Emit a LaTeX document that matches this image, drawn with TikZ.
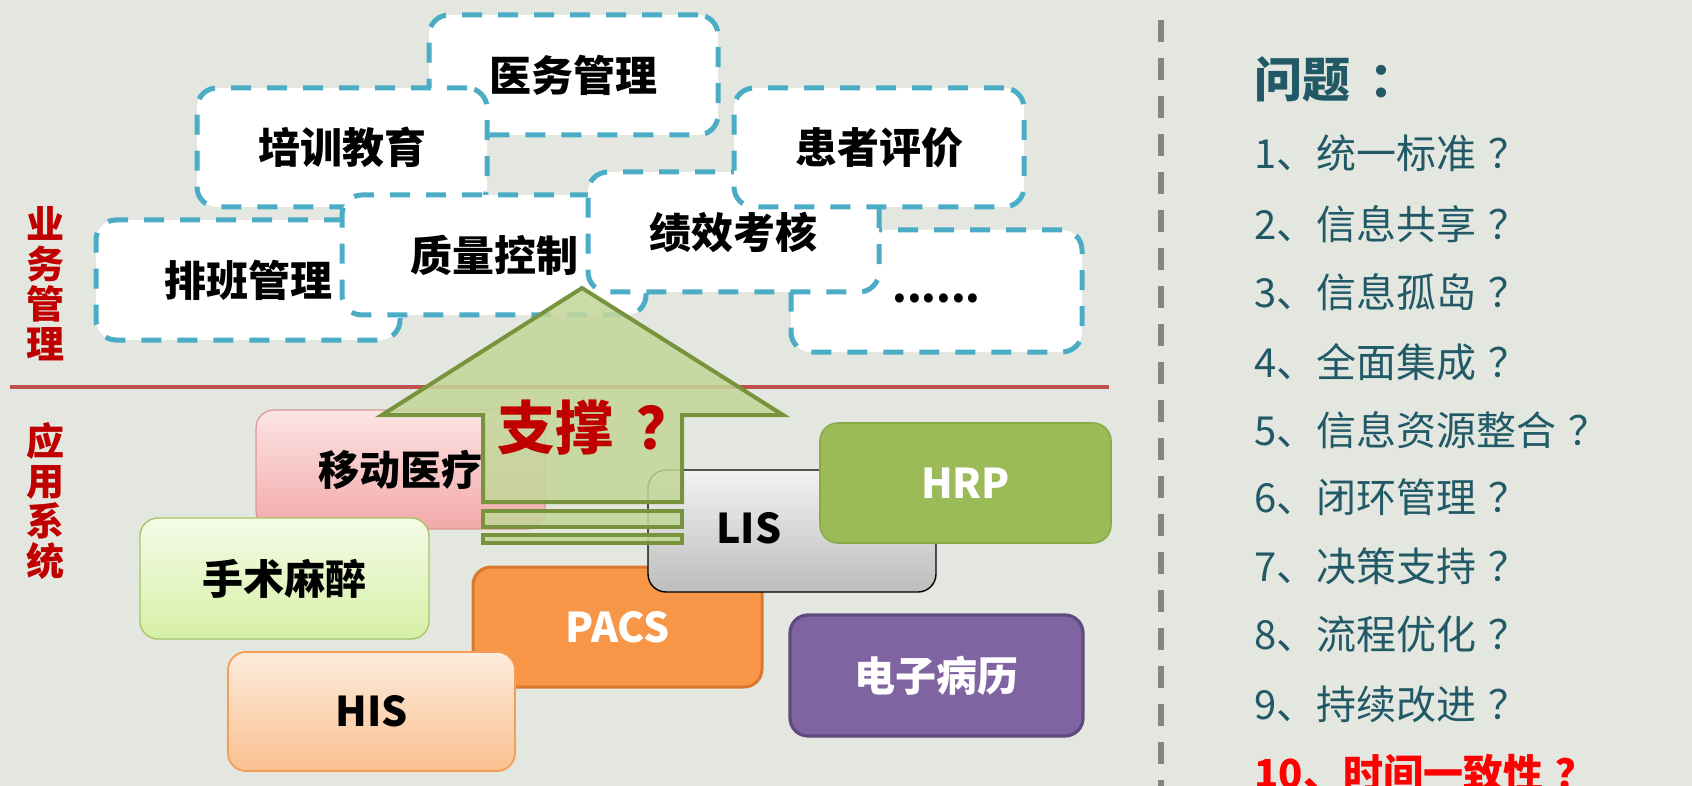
\documentclass[tikz,border=0pt]{standalone}
\usepackage{fontspec}
\setmainfont{Noto Sans CJK SC}
\definecolor{bgc}{HTML}{E3E7DF}
\definecolor{dashblue}{HTML}{4BACC6}
\definecolor{sepred}{HTML}{C0504D}
\definecolor{labelred}{HTML}{C00000}
\definecolor{arrowfill}{HTML}{C3D69B}
\definecolor{arrowline}{HTML}{77933C}
\definecolor{qteal}{HTML}{215967}
\definecolor{pinktop}{HTML}{FDE4E4}
\definecolor{pinkbot}{HTML}{F2A9A9}
\definecolor{pinkline}{HTML}{D99694}
\definecolor{limetop}{HTML}{F4FBE8}
\definecolor{limebot}{HTML}{D6F0A6}
\definecolor{limeline}{HTML}{A9C46A}
\definecolor{peachtop}{HTML}{FDECDD}
\definecolor{peachbot}{HTML}{FAC090}
\definecolor{peachline}{HTML}{F59D56}
\definecolor{orangefill}{HTML}{F79646}
\definecolor{orangeline}{HTML}{D9782F}
\definecolor{greytop}{HTML}{F2F2F2}
\definecolor{greybot}{HTML}{BDBDBD}
\definecolor{greenfill}{HTML}{9BBB59}
\definecolor{greenline}{HTML}{8AAB4A}
\definecolor{purplefill}{HTML}{8064A2}
\definecolor{purpleline}{HTML}{5E4A7E}
\definecolor{sepgrey}{HTML}{858585}
\definecolor{alertred}{HTML}{FF0000}
% full-width question mark, set centred in its cell
\newcommand{\qmark}{\hspace{0.3em}？}
\begin{document}
\begin{tikzpicture}[x=0.5pt,y=-0.5pt,
  dbox/.style={draw=dashblue,line width=2.5pt,dash pattern=on 10pt off 8pt,
    fill=white,rounded corners=10pt,inner sep=0pt,
    font=\bfseries\fontsize{21pt}{24pt}\selectfont},
  abox/.style={rounded corners=9pt,inner sep=0pt,
    font=\bfseries\fontsize{20.5pt}{24pt}\selectfont},
  side/.style={text=labelred,inner sep=0pt,align=center,
    font=\bfseries\fontsize{19pt}{20pt}\selectfont},
  item/.style={anchor=west,inner sep=0pt,text=qteal,
    font=\fontsize{20pt}{24pt}\selectfont},
  bigarrow/.style={fill=arrowfill,fill opacity=0.87,draw=arrowline,
    line width=2pt,line join=miter}
]
\useasboundingbox (0,0) rectangle (1692,786);
\fill[bgc] (0,0) rectangle (1692,786);

% business management layer (dashed boxes, back to front)
\node[dbox,minimum width=144.5pt,minimum height=60pt] (yiwu) at (573.5,75) {医务管理};
\node[dbox,minimum width=145pt,minimum height=59.5pt] (peixun) at (342,147.5) {培训教育};
\node[dbox,minimum width=152pt,minimum height=60pt] (paiban) at (248,280) {排班管理};
\node[dbox,minimum width=152pt,minimum height=60pt] (zhiliang) at (494,255) {质量控制};
\node[dbox,minimum width=145.5pt,minimum height=61pt] (more) at (936.5,291) {\smash{\raisebox{-6pt}{......}}};
\node[dbox,minimum width=145.5pt,minimum height=60pt] (jixiao) at (733.5,232) {绩效考核};
\node[dbox,minimum width=145pt,minimum height=59.5pt] (huanzhe) at (879,147.5) {患者评价};

% layer divider
\draw[sepred,line width=2pt] (10,387) -- (1109,387);

% layer captions
\node[side] (capbiz) at (45,284) {业\\务\\管\\理};
\node[side] (capapp) at (45,501) {应\\用\\系\\统};

% application systems
\node[abox,top color=pinktop,bottom color=pinkbot,draw=pinkline,line width=0.6pt,
  minimum width=144.5pt,minimum height=59.5pt] (mobile) at (400.5,469.5) {移动医疗};
\node[abox,top color=limetop,bottom color=limebot,draw=limeline,line width=0.7pt,
  minimum width=144.5pt,minimum height=60.5pt] (surgery) at (284.5,578.5) {手术麻醉};
\node[abox,fill=orangefill,draw=orangeline,line width=1.5pt,text=white,
  minimum width=144.5pt,minimum height=60pt] (pacs) at (617.5,627) {PACS};
\node[abox,top color=peachtop,bottom color=peachbot,draw=peachline,line width=0.9pt,
  minimum width=143.5pt,minimum height=59.5pt] (his) at (371.5,711.5) {HIS};
\node[abox,top color=greytop,bottom color=greybot,draw=black,line width=0.7pt,
  minimum width=144pt,minimum height=61pt] (lis) at (792,531) {};
\node[abox,inner sep=0pt] (listext) at (749,528) {LIS};
\node[abox,fill=greenfill,draw=greenline,line width=0.8pt,text=white,
  minimum width=145.5pt,minimum height=60pt] (hrp) at (965.5,483) {HRP};
\node[abox,fill=purplefill,draw=purpleline,line width=1.6pt,text=white,
  minimum width=146.5pt,minimum height=60.5pt] (emr) at (936.5,675.5) {电子病历};

% support arrow
\path[bigarrow] (582,288) -- (783,415) -- (682,415) -- (682,502)
  -- (483,502) -- (483,415) -- (382,415) -- cycle;
\path[bigarrow] (483,511) rectangle (682,527);
\path[bigarrow] (483,535) rectangle (682,543);
\node[anchor=west,text=labelred,inner sep=0pt,font=\bfseries\fontsize{29pt}{32pt}\selectfont]
  (support) at (497,428) {支撑\hspace{0.4em}？};

% question panel
\draw[sepgrey,line width=2.8pt,dash pattern=on 11pt off 8pt] (1161,20) -- (1161,786);
\node[item,font=\bfseries\fontsize{24pt}{28pt}\selectfont] (q0) at (1254,79) {问题\hspace{0.4em}：};
\node[item] (q1) at (1254,153) {1、统一标准\qmark};
\node[item] (q2) at (1254,224) {2、信息共享\qmark};
\node[item] (q3) at (1254,292) {3、信息孤岛\qmark};
\node[item] (q4) at (1254,362) {4、全面集成\qmark};
\node[item] (q5) at (1254,430) {5、信息资源整合\qmark};
\node[item] (q6) at (1254,497) {6、闭环管理\qmark};
\node[item] (q7) at (1254,566) {7、决策支持\qmark};
\node[item] (q8) at (1254,634) {8、流程优化\qmark};
\node[item] (q9) at (1254,704) {9、持续改进\qmark};
\node[item,text=alertred,font=\bfseries\fontsize{20pt}{24pt}\selectfont] (q10) at (1254,773) {10、时间一致性\qmark};
\end{tikzpicture}
\end{document}
